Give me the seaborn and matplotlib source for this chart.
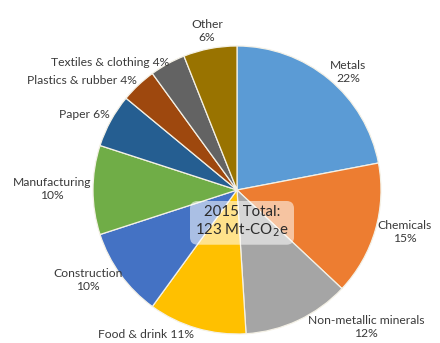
import matplotlib
matplotlib.use("Agg")
import matplotlib.pyplot as plt
import seaborn as sns

sectors = ["Metals", "Chemicals", "Non-metallic minerals", "Food & drink",
           "Construction", "Manufacturing", "Paper", "Plastics & rubber",
           "Textiles & clothing", "Other"]
shares = [22, 15, 12, 11, 10, 10, 6, 4, 4, 6]
label_texts = ["Metals\n22%", "Chemicals\n15%", "Non-metallic minerals\n12%",
               "Food & drink 11%", "Construction\n10%", "Manufacturing\n10%",
               "Paper 6%", "Plastics & rubber 4%", "Textiles & clothing 4%",
               "Other\n6%"]
colors = ["#5B9BD5", "#ED7D31", "#A5A5A5", "#FFC000", "#4472C4",
          "#70AD47", "#255E91", "#9E480E", "#636363", "#997300"]
total_text = "2015 Total:\n123 Mt-CO$_2$e"

sns.set_theme(style="white")
plt.rcParams["font.family"] = ["Lato", "DejaVu Sans"]

W, H = 440, 343
fig = plt.figure(figsize=(W / 100, H / 100), dpi=100)
ax = fig.add_axes([0, 0, 1, 1])

cx, cy, r = 237, H - 190, 144
palette = sns.color_palette(colors)
ax.pie(shares, colors=palette, startangle=90, counterclock=False,
       center=(cx, cy), radius=r, frame=True,
       wedgeprops=dict(edgecolor="#f4f1e6", linewidth=0.9))
ax.set_xlim(0, W)
ax.set_ylim(0, H)
ax.set_aspect("equal")
ax.axis("off")

# label anchors (pixel coordinates from top-left)
label_pos = [(348, 72), (405, 232), (366, 327), (146, 334), (88, 280),
             (52, 189), (84, 115), (82, 81), (110, 62), (207, 31)]
for txt, (x, y) in zip(label_texts, label_pos):
    ax.text(x, H - y, txt, ha="center", va="center", fontsize=8.7,
            color="#3a3a3a", linespacing=1.3)

ax.text(242, H - 222, total_text, ha="center", va="center", fontsize=10.8,
        color="#2b2b2b", linespacing=1.25,
        bbox=dict(boxstyle="round,pad=0.35,rounding_size=0.5",
                  fc="white", ec="none", alpha=0.55))

fig.savefig("out.png", dpi=100)
